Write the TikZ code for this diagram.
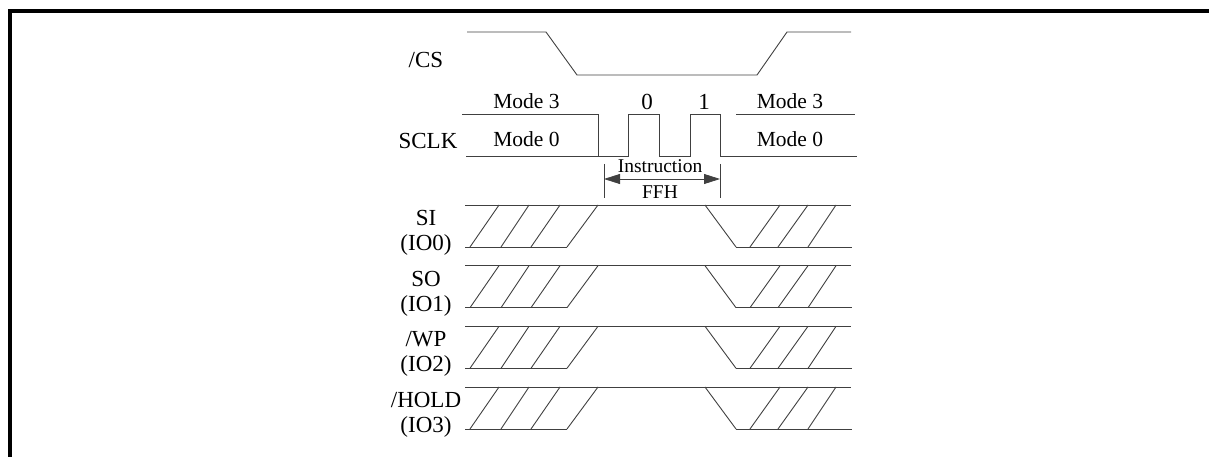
\documentclass[tikz,border=0pt]{standalone}
\usepackage{fontspec}
\setmainfont{Liberation Serif}
\usetikzlibrary{arrows.meta}
\begin{document}
\begin{tikzpicture}[x=1pt,y=-1pt,
  wave/.style={line width=0.9pt, draw=black!75, line join=miter},
  siglabel/.style={font=\fontsize{23}{23}\selectfont, anchor=base, inner sep=0pt},
  modelabel/.style={font=\fontsize{21.5}{21.5}\selectfont, anchor=base, inner sep=0pt},
  bitlabel/.style={font=\fontsize{23}{23}\selectfont, anchor=base, inner sep=0pt},
  instlabel/.style={font=\fontsize{19.5}{19.5}\selectfont, anchor=base, inner sep=0pt},
  dimarrow/.style={line width=0.8pt, draw=black!75, {Triangle[length=16pt,width=10pt,fill=black!75]}-{Triangle[length=16pt,width=10pt,fill=black!75]}}]
\useasboundingbox (0,0) rectangle (1209,457);
% frame
\fill (8,9) rectangle (1209,13);
\fill (8,9) rectangle (12,457);

% labels
\node[siglabel] (cs) at (426,68) {/CS};
\node[siglabel] (sclk) at (428,149) {SCLK};
\node[siglabel] (si) at (426,225.5) {SI};
\node[siglabel] (io0) at (426,250.5) {(IO0)};
\node[siglabel] (so) at (426,286) {SO};
\node[siglabel] (io1) at (426,311) {(IO1)};
\node[siglabel] (wp) at (426,346.5) {/WP};
\node[siglabel] (io2) at (426,371.5) {(IO2)};
\node[siglabel] (hold) at (426,407) {/HOLD};
\node[siglabel] (io3) at (426,432) {(IO3)};

\node[modelabel] (m3l) at (526.5,109) {Mode 3};
\node[modelabel] (m0l) at (526.5,147) {Mode 0};
\node[modelabel] (m3r) at (790,109) {Mode 3};
\node[modelabel] (m0r) at (790,147) {Mode 0};
\node[bitlabel] (b0) at (647,110) {0};
\node[bitlabel] (b1) at (704,110) {1};
\node[instlabel] (inst) at (660,173) {Instruction};
\node[instlabel] (ffh) at (660,198) {FFH};

% /CS
\draw[wave] (467,32) -- (546,32) -- (577,75) -- (757,75) -- (787,32) -- (851,32);

% SCLK
\draw[wave] (462,114) -- (598,114) -- (598,156);
\draw[wave] (466,156) -- (628,156) -- (628,114) -- (659,114) -- (659,156)
  -- (690,156) -- (690,114) -- (720,114) -- (720,156) -- (857,156);
\draw[wave] (736,114) -- (855,114);

% instruction dimension
\coordinate (tl1) at (604,164); \coordinate (tl2) at (604,198);
\coordinate (tr1) at (720,164); \coordinate (tr2) at (720,198);
\draw[wave, line width=0.8pt] (tl1) -- (tl2);
\draw[wave, line width=0.8pt] (tr1) -- (tr2);
\coordinate (al) at (604,179); \coordinate (ar) at (720,179);
\draw[dimarrow] (al) -- (ar);

% data lines
\foreach \T in {205,265.7,326.3,387}{
  \pgfmathsetmacro\B{\T+42}
  \draw[wave] (465,\T) -- (851,\T);
  \draw[wave] (465,\B) -- (567,\B);
  \draw[wave] (736,\B) -- (852,\B);
  \draw[wave] (470,\B) -- (499,\T);
  \draw[wave] (501,\B) -- (529,\T);
  \draw[wave] (531,\B) -- (560,\T);
  \draw[wave] (567,\B) -- (598,\T);
  \draw[wave] (705,\T) -- (736,\B);
  \draw[wave] (750,\B) -- (780,\T);
  \draw[wave] (778,\B) -- (808,\T);
  \draw[wave] (808,\B) -- (836,\T);
}
\end{tikzpicture}
\end{document}
